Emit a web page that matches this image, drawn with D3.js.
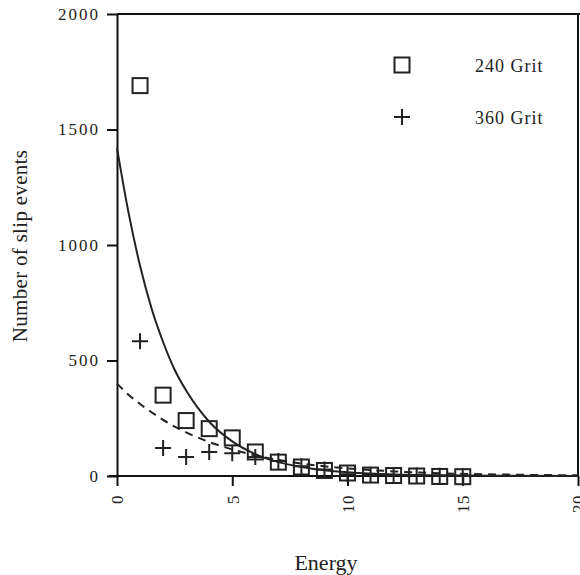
<!DOCTYPE html>
<html>
<head>
<meta charset="utf-8">
<script src="https://cdn.jsdelivr.net/npm/d3@7"></script>
<style>
  body { margin: 0; background: #fff; }
  svg text { font-family: "Liberation Serif", "Times New Roman", serif; fill: #222; }
  .axis path, .axis line { stroke: #111; stroke-width: 2px; }
  .line { fill: none; stroke: #222; stroke-width: 2px; }
</style>
</head>
<body>
<div id="chart"></div>
<script>
// energy values (x) for the measured points
const energy = [1, 2, 3, 4, 5, 6, 7, 8, 9, 10, 11, 12, 13, 14, 15];
// 240 Grit (squares)
const grit240 = [1690, 350, 240, 205, 165, 104, 60, 39, 24, 13, 4, 2, 0, -2, -3];
// 360 Grit (crosses)
const grit360 = [583, 121, 82, 104, 99, 82, 65, 42, 28, 8, 5, 3, 2, 1, 0];

// fitted curves
const fitX = [0, 0.5, 1, 1.5, 2, 2.5, 3, 4, 5, 6, 7, 8, 9, 10, 12, 14, 17, 20];
const fitSolid = [1420, 1140, 910, 725, 580, 460, 370, 235, 150, 95, 60, 39, 25, 16, 6, 3, 1, 0];
const fitDashed = [400, 352, 312, 276, 243, 214, 189, 147, 115, 89, 70, 54, 42, 33, 20, 12, 6, 3];

const xTicks = [0, 5, 10, 15, 20];
const yTicks = [0, 500, 1000, 1500, 2000];
const legendLabels = ["240 Grit", "360 Grit"];

const margin = { top: 14, right: 2, bottom: 99, left: 117 },
      width = 580 - margin.left - margin.right,
      height = 575 - margin.top - margin.bottom;

const x = d3.scaleLinear().domain([0, 20]).range([0, 461]);
const y = d3.scaleLinear().domain([0, 2000]).range([462, 0]);

const svg = d3.select("#chart").append("svg")
    .attr("width", 580)
    .attr("height", 575)
    .append("g")
    .attr("transform", "translate(" + margin.left + "," + margin.top + ")");

// frame (top and right)
svg.append("line")
    .attr("x1", x(0)).attr("x2", x(20) + 3)
    .attr("y1", y(2000)).attr("y2", y(2000))
    .style("stroke", "#111").style("stroke-width", 2);
svg.append("line")
    .attr("x1", x(20)).attr("x2", x(20))
    .attr("y1", y(2000)).attr("y2", y(0))
    .style("stroke", "#111").style("stroke-width", 2);

// axes
const xAxis = svg.append("g")
    .attr("class", "axis axis--x")
    .attr("transform", "translate(0," + y(0) + ")")
    .call(d3.axisBottom(x).tickValues(xTicks).tickSize(10).tickSizeOuter(0).tickFormat(d3.format("d")));
xAxis.selectAll("text")
    .attr("transform", "rotate(-90)")
    .attr("y", 0)
    .attr("x", -19)
    .attr("dy", "0.35em")
    .style("text-anchor", "end")
    .style("font-size", "17px")
    .style("letter-spacing", "0.5px");
xAxis.select(".domain").remove();
svg.append("line")
    .attr("x1", x(0) - 8).attr("x2", x(20))
    .attr("y1", y(0)).attr("y2", y(0))
    .style("stroke", "#111").style("stroke-width", 2);

const yAxis = svg.append("g")
    .attr("class", "axis axis--y")
    .call(d3.axisLeft(y).tickValues(yTicks).tickSize(10).tickSizeOuter(0).tickFormat(d3.format("d")));
yAxis.selectAll("text")
    .attr("x", -17)
    .style("font-size", "17px")
    .style("letter-spacing", "2px");

// fitted curves
const lineFit = d3.line()
    .x((d, i) => x(fitX[i]))
    .y(d => y(d))
    .curve(d3.curveMonotoneX);

svg.append("path")
    .datum(fitSolid)
    .attr("class", "line")
    .attr("d", lineFit);

svg.append("path")
    .datum(fitDashed)
    .attr("class", "line")
    .style("stroke-dasharray", "8,6")
    .attr("d", lineFit);

// markers
const sq = 15, cr = 8;
svg.selectAll(".sq")
    .data(grit240)
    .enter().append("rect")
    .attr("class", "sq")
    .attr("x", (d, i) => x(energy[i]) - sq / 2)
    .attr("y", d => y(d) - sq / 2)
    .attr("width", sq).attr("height", sq)
    .style("fill", "none").style("stroke", "#222").style("stroke-width", 2);

const cross = (px, py) => `M${px - cr},${py}H${px + cr}M${px},${py - cr}V${py + cr}`;
svg.selectAll(".cr")
    .data(grit360)
    .enter().append("path")
    .attr("class", "cr")
    .attr("d", (d, i) => cross(x(energy[i]), y(d)))
    .style("fill", "none").style("stroke", "#222").style("stroke-width", 2);

// legend
const lg = svg.append("g").attr("transform", "translate(" + (402 - margin.left) + ",0)");
lg.append("rect")
    .attr("x", -sq / 2).attr("y", 51 - sq / 2)
    .attr("width", sq).attr("height", sq)
    .style("fill", "none").style("stroke", "#222").style("stroke-width", 2);
lg.append("path")
    .attr("d", cross(0, 103))
    .style("fill", "none").style("stroke", "#222").style("stroke-width", 2);
lg.selectAll(".lgtext")
    .data(legendLabels)
    .enter().append("text")
    .attr("x", 73)
    .attr("y", (d, i) => 58 + i * 52)
    .style("font-size", "18px")
    .style("letter-spacing", "1px")
    .text(d => d);

// axis titles
svg.append("text")
    .attr("x", 326 - margin.left)
    .attr("y", 556)
    .style("text-anchor", "middle")
    .style("font-size", "22px")
    .text("Energy");

svg.append("text")
    .attr("transform", "translate(" + (27 - margin.left) + "," + (246 - margin.top) + ") rotate(-90)")
    .style("text-anchor", "middle")
    .style("font-size", "21px")
    .style("letter-spacing", "0.3px")
    .text("Number of slip events");
</script>
</body>
</html>
